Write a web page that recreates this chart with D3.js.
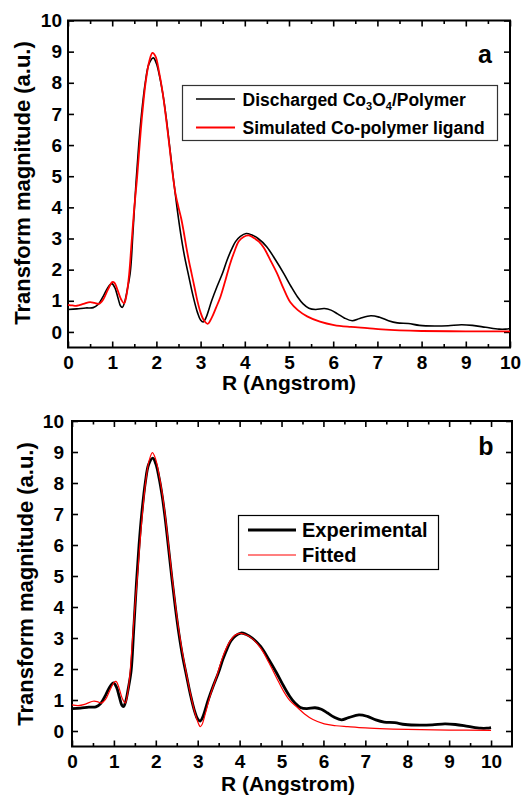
<!DOCTYPE html>
<html>
<head>
<meta charset="utf-8">
<script src="https://cdn.jsdelivr.net/npm/d3@7"></script>
<style>
  body { margin: 0; background: #fff; }
  svg text { font-family: "Liberation Sans", Arial, sans-serif; font-weight: bold; fill: #000; }
</style>
</head>
<body>
<div id="chart"></div>
<script>
// [R (Angstrom), transform magnitude]
const discharged = [
  [0,0.72],[0.2,0.74],[0.4,0.77],[0.57,0.78],[0.68,0.88],[0.8,1.15],[0.9,1.42],[0.99,1.55],
  [1.06,1.42],[1.13,1.1],[1.19,0.83],[1.23,0.79],[1.28,0.95],[1.34,1.35],[1.41,1.93],[1.47,3.2],
  [1.54,4.82],[1.6,6.0],[1.66,6.95],[1.75,8.02],[1.83,8.6],[1.93,8.8],[2.0,8.62],[2.08,8.15],
  [2.15,7.6],[2.22,6.9],[2.3,5.95],[2.39,4.85],[2.47,3.95],[2.55,3.15],[2.64,2.4],[2.73,1.8],
  [2.83,1.15],[2.93,0.62],[3.0,0.38],[3.06,0.32],[3.12,0.45],[3.25,1.0],[3.37,1.45],[3.5,1.9],
  [3.6,2.31],[3.7,2.65],[3.79,2.9],[3.9,3.07],[4.03,3.16],[4.15,3.12],[4.3,3.0],[4.5,2.73],
  [4.7,2.3],[4.88,1.88],[5.05,1.45],[5.19,1.13],[5.32,0.9],[5.45,0.76],[5.6,0.72],[5.8,0.75],
  [5.95,0.7],[6.1,0.58],[6.25,0.45],[6.43,0.36],[6.6,0.43],[6.85,0.52],[7.05,0.47],[7.25,0.36],
  [7.45,0.29],[7.7,0.27],[7.95,0.21],[8.3,0.19],[8.6,0.2],[8.9,0.23],[9.15,0.21],[9.45,0.15],
  [9.75,0.09],[9.9,0.09],[10,0.11]
];

const simulated = [
  [0,0.87],[0.1,0.85],[0.2,0.84],[0.35,0.9],[0.5,0.96],[0.6,0.93],[0.7,0.9],[0.8,1.05],
  [0.9,1.35],[1.0,1.6],[1.05,1.58],[1.12,1.35],[1.2,1.05],[1.27,0.92],[1.32,1.15],[1.38,1.8],
  [1.44,2.9],[1.5,4.0],[1.56,4.9],[1.62,6.0],[1.68,7.0],[1.76,8.05],[1.84,8.7],[1.91,8.96],
  [1.98,8.85],[2.06,8.35],[2.14,7.7],[2.22,6.85],[2.3,5.9],[2.37,5.05],[2.43,4.45],[2.5,4.0],
  [2.56,3.65],[2.62,3.2],[2.68,2.7],[2.74,2.25],[2.8,1.85],[2.87,1.38],[2.93,0.98],[3.0,0.62],
  [3.07,0.38],[3.16,0.26],[3.25,0.45],[3.35,0.78],[3.45,1.13],[3.56,1.65],[3.67,2.2],[3.77,2.6],
  [3.86,2.9],[3.97,3.05],[4.09,3.1],[4.2,3.02],[4.32,2.9],[4.43,2.7],[4.58,2.3],[4.73,1.88],
  [4.88,1.38],[5.03,0.95],[5.2,0.7],[5.41,0.5],[5.7,0.33],[6.02,0.22],[6.4,0.16],[6.77,0.12],
  [7.1,0.08],[7.5,0.05],[8.0,0.03],[9.0,0.02],[10,0.02]
];

// panel b: the experimental curve is the same measurement as in panel a
const experimental = discharged;

const fitted = [
  [0,0.84],[0.15,0.82],[0.3,0.86],[0.5,0.96],[0.6,0.95],[0.7,0.9],[0.8,1.02],[0.9,1.3],
  [1.0,1.56],[1.05,1.6],[1.12,1.4],[1.2,1.05],[1.27,0.9],[1.32,1.15],[1.38,1.8],[1.44,2.9],
  [1.5,4.0],[1.56,4.95],[1.62,6.05],[1.68,7.0],[1.76,8.05],[1.84,8.72],[1.92,8.98],[2.0,8.75],
  [2.08,8.25],[2.15,7.7],[2.22,7.0],[2.3,6.05],[2.39,4.95],[2.47,4.05],[2.55,3.25],[2.64,2.5],
  [2.73,1.85],[2.83,1.18],[2.93,0.6],[3.0,0.3],[3.06,0.14],[3.1,0.2],[3.18,0.55],[3.3,1.15],
  [3.45,1.75],[3.6,2.4],[3.75,2.85],[3.88,3.08],[4.0,3.15],[4.12,3.12],[4.3,2.98],[4.5,2.68],
  [4.7,2.2],[4.88,1.72],[5.05,1.28],[5.2,0.98],[5.38,0.76],[5.55,0.55],[5.75,0.37],[6.02,0.23],
  [6.3,0.17],[6.58,0.14],[7.0,0.1],[7.5,0.07],[8.0,0.05],[9.0,0.03],[10,0.02]
];

const xMajor = d3.range(0, 11, 1);
const xMinor = d3.range(0.5, 10.5, 1);
const yMajor = d3.range(0, 11, 1);

const W = 525, H = 795;
const svg = d3.select("#chart").append("svg")
  .attr("width", W)
  .attr("height", H);

function drawPanel(p) {
  const x = d3.scaleLinear().domain(p.xDomain).range([p.left, p.right]);
  const y = d3.scaleLinear().domain([-0.5, 10]).range([p.bottom, p.top]);
  const g = svg.append("g");

  const minorX = xMinor.filter(d => d < p.xDomain[1]);

  // bottom axis, ticks pointing inward
  g.append("g").attr("transform", `translate(0,${p.bottom})`)
    .call(d3.axisBottom(x).tickValues(xMajor).tickSize(-6).tickPadding(8).tickFormat(d3.format("d")));
  g.append("g").attr("transform", `translate(0,${p.bottom})`)
    .call(d3.axisBottom(x).tickValues(minorX).tickSize(-3.5).tickFormat(""));
  // top mirror
  g.append("g").attr("transform", `translate(0,${p.top})`)
    .call(d3.axisTop(x).tickValues(xMajor).tickSize(-6).tickFormat(""));
  g.append("g").attr("transform", `translate(0,${p.top})`)
    .call(d3.axisTop(x).tickValues(minorX).tickSize(-3.5).tickFormat(""));
  // left axis
  g.append("g").attr("transform", `translate(${p.left},0)`)
    .call(d3.axisLeft(y).tickValues(yMajor).tickSize(-6).tickPadding(p.yPad).tickFormat(d3.format("d")));
  // right mirror
  g.append("g").attr("transform", `translate(${p.right},0)`)
    .call(d3.axisRight(y).tickValues(yMajor).tickSize(-6).tickFormat(""));

  g.selectAll(".domain").remove();
  g.selectAll(".tick line").attr("stroke", "#000").attr("stroke-width", 1.6);
  g.selectAll(".tick text").style("font-size", "19px").attr("fill", "#000");

  g.append("rect")
    .attr("x", p.left).attr("y", p.top)
    .attr("width", p.right - p.left).attr("height", p.bottom - p.top)
    .attr("fill", "none").attr("stroke", "#000").attr("stroke-width", 2);

  const line = d3.line()
    .x(d => x(d[0]))
    .y(d => y(d[1]))
    .curve(d3.curveCatmullRom.alpha(0.5));

  p.series.forEach(s => {
    g.append("path")
      .datum(s.data)
      .attr("d", line)
      .attr("fill", "none")
      .attr("stroke", s.color)
      .attr("stroke-width", s.width)
      .attr("stroke-linejoin", "round");
  });

  // axis titles
  g.append("text")
    .attr("x", p.xTitle[0]).attr("y", p.xTitle[1])
    .attr("text-anchor", "middle")
    .style("font-size", "21px")
    .text("R (Angstrom)");
  g.append("text")
    .attr("transform", `translate(${p.yTitle[0]},${p.yTitle[1]}) rotate(-90)`)
    .attr("text-anchor", "middle")
    .style("font-size", "22px")
    .text("Transform magnitude (a.u.)");

  // panel letter
  g.append("text")
    .attr("x", p.letterPos[0]).attr("y", p.letterPos[1])
    .attr("text-anchor", "middle")
    .style("font-size", "25px")
    .text(p.letter);

  // legend
  const L = p.legend;
  g.append("rect")
    .attr("x", L.x).attr("y", L.y).attr("width", L.w).attr("height", L.h)
    .attr("fill", "#fff").attr("stroke", L.border).attr("stroke-width", 1.2);
  p.series.forEach((s, i) => {
    const ly = L.rows[i];
    g.append("line")
      .attr("x1", L.lineX[0]).attr("x2", L.lineX[1])
      .attr("y1", ly).attr("y2", ly)
      .attr("stroke", s.color).attr("stroke-width", s.width);
    const t = g.append("text")
      .attr("x", L.textX).attr("y", ly + L.baseOff)
      .style("font-size", L.font + "px");
    s.label.forEach(part => {
      const ts = t.append("tspan").text(part.t);
      if (part.sub) ts.style("font-size", "11px").attr("dy", 4);
      if (part.back) ts.attr("dy", -4);
    });
  });
}

drawPanel({
  left: 68, right: 510, top: 20.5, bottom: 347.5,
  xDomain: [0, 10], yPad: 6,
  xTitle: [289, 390], yTitle: [30, 183],
  letter: "a", letterPos: [485, 63],
  series: [
    { data: discharged, color: "#000", width: 1.6,
      label: [{t: "Discharged Co"}, {t: "3", sub: true}, {t: "O", back: true}, {t: "4", sub: true}, {t: "/Polymer", back: true}] },
    { data: simulated, color: "#ff0000", width: 1.8,
      label: [{t: "Simulated Co-polymer ligand"}] }
  ],
  legend: { x: 182.5, y: 85.5, w: 315, h: 55, border: "#333", rows: [99, 127.5],
            lineX: [196, 235], textX: 242.5, baseOff: 6.5, font: 17.5 }
});

drawPanel({
  left: 72, right: 512, top: 421, bottom: 746.5,
  xDomain: [0, 10.5], yPad: 8,
  xTitle: [288, 791], yTitle: [33, 584],
  letter: "b", letterPos: [486, 455],
  series: [
    { data: experimental, color: "#000", width: 2.8,
      label: [{t: "Experimental"}] },
    { data: fitted, color: "#ff0000", width: 1.2,
      label: [{t: "Fitted"}] }
  ],
  legend: { x: 238.5, y: 515.5, w: 200, h: 54, border: "#000", rows: [530, 555],
            lineX: [248, 296], textX: 302, baseOff: 7, font: 20 }
});
</script>
</body>
</html>
